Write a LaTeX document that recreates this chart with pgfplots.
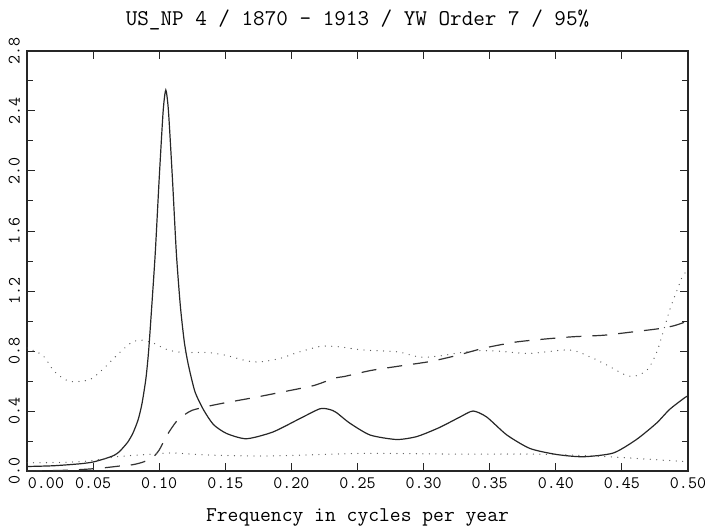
\documentclass[border=0pt]{standalone}
\usepackage{pgfplots}
\pgfplotsset{compat=1.18}
\usepackage{fontspec}

% spectrum (solid)
\pgfplotstableread{
f v
0.000 0.030
0.020 0.035
0.040 0.048
0.050 0.060
0.060 0.085
0.066 0.105
0.070 0.130
0.076 0.190
0.080 0.250
0.084 0.340
0.087 0.450
0.090 0.620
0.092 0.800
0.094 1.050
0.097 1.450
0.100 1.950
0.103 2.400
0.105 2.540
0.107 2.400
0.110 1.950
0.113 1.450
0.116 1.100
0.119 0.860
0.122 0.710
0.127 0.530
0.1334 0.410
0.141 0.310
0.151 0.250
0.166 0.215
0.186 0.260
0.2065 0.350
0.2216 0.415
0.229 0.410
0.234 0.390
0.244 0.320
0.2595 0.240
0.2796 0.210
0.295 0.230
0.312 0.290
0.3275 0.360
0.3374 0.400
0.3477 0.360
0.363 0.240
0.3805 0.150
0.4007 0.110
0.4208 0.095
0.4435 0.120
0.461 0.210
0.4763 0.320
0.486 0.410
0.4977 0.490
0.500 0.500
}\spectab

% dashed
\pgfplotstableread{
f v
0.000 0.000
0.030 0.005
0.045 0.012
0.057 0.020
0.070 0.033
0.080 0.042
0.088 0.060
0.095 0.090
0.100 0.140
0.106 0.240
0.113 0.330
0.120 0.380
0.125 0.405
0.136 0.430
0.150 0.455
0.172 0.490
0.195 0.530
0.217 0.570
0.233 0.620
0.240 0.630
0.260 0.670
0.282 0.700
0.305 0.730
0.325 0.770
0.346 0.820
0.370 0.860
0.392 0.880
0.413 0.895
0.436 0.905
0.456 0.925
0.479 0.950
0.490 0.970
0.500 1.000
}\dashtab

% upper band (dotted)
\pgfplotstableread{
f v
0.000 0.820
0.012 0.770
0.020 0.670
0.0287 0.610
0.035 0.595
0.0477 0.610
0.0575 0.680
0.0678 0.770
0.078 0.850
0.0855 0.873
0.095 0.855
0.1057 0.810
0.118 0.790
0.136 0.790
0.151 0.770
0.166 0.735
0.176 0.727
0.191 0.750
0.2065 0.795
0.2216 0.830
0.234 0.830
0.254 0.807
0.2796 0.795
0.297 0.760
0.312 0.767
0.337 0.800
0.355 0.800
0.380 0.784
0.410 0.807
0.426 0.760
0.4385 0.707
0.451 0.647
0.4587 0.630
0.469 0.673
0.476 0.784
0.481 0.920
0.486 1.070
0.4915 1.200
0.496 1.300
0.500 1.340
}\uppertab

% lower band (dotted)
\pgfplotstableread{
f v
0.000 0.055
0.030 0.058
0.050 0.070
0.068 0.095
0.090 0.110
0.110 0.120
0.136 0.107
0.180 0.100
0.234 0.113
0.260 0.118
0.320 0.113
0.380 0.113
0.410 0.107
0.440 0.095
0.480 0.073
0.500 0.062
}\lowertab

\begin{document}
\begin{tikzpicture}
\begin{axis}[
    scale only axis,
    width=661pt,
    height=420pt,
    xmin=0, xmax=0.5,
    ymin=0, ymax=2.8,
    xtick={0,0.05,0.1,0.15,0.2,0.25,0.3,0.35,0.4,0.45,0.5},
    xticklabels={\hspace*{38pt}0.00,0.05,0.10,0.15,0.20,0.25,0.30,0.35,0.40,0.45,0.50},
    ytick={0,0.4,0.8,1.2,1.6,2.0,2.4,2.8},
    yticklabels={0.0,0.4,0.8,1.2,1.6,2.0,2.4,2.8},
    minor ytick={0.2,0.6,1.0,1.4,1.8,2.2,2.6},
    tick align=inside,
    major tick length=8pt,
    minor tick length=6pt,
    tick style={black!85, line width=1pt},
    axis line style={line width=1.8pt, black!85},
    font=\fontsize{17.5}{20}\selectfont\ttfamily,
    /pgf/number format/assume math mode=true,
    yticklabel style={rotate=90, anchor=south, inner ysep=7pt},
    xticklabel style={yshift=-3pt},
    xlabel={Frequency in cycles per year},
    xlabel style={font=\fontsize{21}{24}\selectfont\ttfamily, yshift=-13pt},
    title={US\_NP 4 / 1870 - 1913 / YW Order 7 / 95\%},
    title style={font=\fontsize{22.5}{25}\selectfont\ttfamily, yshift=11pt},
]
\coordinate (sw) at (rel axis cs:0,0);
\coordinate (ne) at (rel axis cs:1,1);
\addplot[black!85, line width=1.2pt, smooth, tension=0.4] table[x=f, y=v] {\spectab};
\addplot[black!80, line width=1.2pt, smooth, tension=0.4, dash pattern=on 15pt off 11pt] table[x=f, y=v] {\dashtab};
\addplot[black!65, line width=1.3pt, smooth, line cap=round, dash pattern=on 0pt off 6.5pt] table[x=f, y=v] {\uppertab};
\addplot[black!65, line width=1.3pt, smooth, line cap=round, dash pattern=on 0pt off 6.5pt] table[x=f, y=v] {\lowertab};
\end{axis}
\pgfresetboundingbox
\path ([shift={(-27pt,-59pt)}]sw) rectangle ([shift={(17pt,51pt)}]ne);
\end{tikzpicture}
\end{document}
